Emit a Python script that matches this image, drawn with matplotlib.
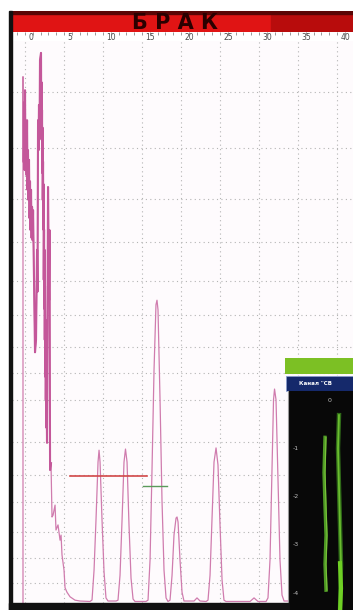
import matplotlib
matplotlib.use("Agg")
import matplotlib.pyplot as plt
from matplotlib.patches import Rectangle

# ---------------- data ----------------
# A-scan echo trace (depth units, amplitude %)
echo_x = [-0.26, -0.26, -0.2, -0.13, -0.06, 0.0, 0.06, 0.13, 0.2, 0.26, 0.32, 0.38, 0.45,
          0.51, 0.58, 0.64, 0.7, 0.77, 0.84, 0.9, 0.97, 1.03,
          1.28, 1.41, 1.54, 1.6, 1.67, 1.73, 1.79, 1.86, 1.92, 2.05, 2.08, 2.12, 2.15, 2.18,
          2.21, 2.24, 2.27, 2.31, 2.34, 2.37, 2.4, 2.44, 2.47, 2.5, 2.53, 2.56, 2.6, 2.63,
          2.66, 2.69, 2.72, 2.76, 2.82, 2.95, 3.08, 3.14, 3.21, 3.33,
          3.46, 3.59, 3.85, 3.97, 4.23, 4.49, 4.62, 4.74, 5.0, 5.13, 5.38, 5.77,
          6.41, 7.05, 8.33,
          8.59, 8.85, 9.1, 9.36, 9.49, 9.62, 9.87, 10.13, 10.38, 10.64, 11.67,
          11.92, 12.18, 12.44, 12.69, 12.88, 13.08, 13.33, 13.59, 13.85, 14.1, 15.5,
          15.77, 16.03, 16.28, 16.54, 16.79, 16.92, 17.05, 17.31, 17.56, 17.82, 18.08, 18.33,
          18.59, 18.85, 19.1, 19.36, 19.49, 19.62, 19.87, 20.13, 20.38, 21.67, 22.05, 22.44, 23.21,
          23.46, 23.72, 23.97, 24.23, 24.49, 24.74, 25.0, 25.26, 25.51, 25.77, 28.85, 29.36, 29.87, 30.9,
          31.15, 31.41, 31.67, 31.86, 31.99, 32.18, 32.44, 32.69, 32.95, 33.21, 42.0]
echo_y = [0, 93.0, 78.0, 88.5, 76.5, 90.6, 77.0, 84.0, 75.6, 85.3, 73.0, 80.0, 71.2,
          78.3, 68.0, 74.5, 65.9, 73.0, 64.5, 70.0, 64.1, 69.4,
          44.3, 46.5, 62.4, 55.0, 85.3, 80.0, 88.0, 82.0, 95.9, 97.2, 84.0, 92.0, 81.8, 87.1,
          76.0, 84.0, 71.2, 78.0, 66.0, 74.0, 57.1, 66.0, 52.0, 62.4, 46.5, 56.0, 40.0, 50.0,
          35.9, 44.0, 31.0, 38.0, 28.3, 73.5, 53.5, 65.9, 23.5, 24.7,
          15.2, 15.5, 17.3, 12.9, 13.8, 11.1, 12.0, 8.5, 5.8, 2.7, 1.9, 1.1,
          0.5, 0.35, 0.27,
          0.53, 5.8, 14.7, 24.9, 27.0, 24.9, 14.7, 5.5, 0.9, 0.35, 0.35,
          0.5, 4.9, 14.7, 24.9, 27.2, 24.9, 13.8, 4.4, 0.7, 0.27, 0.27,
          0.5, 7.6, 23.5, 41.2, 52.7, 53.5, 51.8, 35.9, 18.2, 5.8, 0.9, 0.27,
          0.5, 4.9, 12.0, 15.0, 15.2, 14.3, 7.6, 1.9, 0.35, 0.35, 0.9, 0.35, 0.27,
          0.5, 4.9, 14.7, 24.9, 27.4, 24.4, 13.8, 4.1, 0.5, 0.27, 0.27, 0.9, 0.27, 0.27,
          0.9, 7.6, 23.5, 35.9, 37.8, 35.9, 21.7, 7.6, 1.4, 0.35, 0.35]

grid_x = [0, 5, 10, 15, 20, 25, 30, 35, 40]
grid_y = [90.3, 80.4, 71.4, 63.8, 56.9, 50.9, 45.2, 40.6, 35.9, 28.4, 22.6,
          17.8, 12.5, 8.0, 3.5]
ruler_ticks = [0, 5, 10, 15, 20, 25, 30, 35, 40]
ruler_labels = ["0", "5", "10", "15", "20", "25", "30", "35", "40"]

gate_red_x = [5.8, 15.6]
gate_red_y = 22.4
gate_green_x = [15.1, 18.2]
gate_green_y = 20.7

title_text = "Б Р А К"
inset_title = "Канал \"СВ"
inset_ticks = [0, -1, -2, -3, -4]
inset_labels = ["0", "-1", "-2", "-3", "-4"]
trace1_x = [37, 36, 37, 38, 37, 38]
trace1_y = [-0.77, -1.5, -2.2, -2.8, -3.4, -3.94]
trace2_x = [51, 50, 51, 52, 53, 52]
trace2_y = [-0.31, -1.0, -1.8, -2.6, -3.4, -4.4]
trace2b_x = [52, 53, 52]
trace2b_y = [-3.38, -3.9, -4.4]

# ---------------- figure ----------------
W, H = 353, 610
fig = plt.figure(figsize=(W / 100, H / 100), dpi=100)
fig.patch.set_facecolor("white")


def axes_px(x0, y0, x1, y1, **kw):
    return fig.add_axes([x0 / W, 1 - y1 / H, (x1 - x0) / W, (y1 - y0) / H], **kw)


XLIM = (-1.67, 42.05)

# main A-scan
ax = axes_px(12, 41, 353, 603)
ax.set_facecolor("#fefbfd")
ax.set_xlim(*XLIM)
ax.set_ylim(0, 99.3)
for gx in grid_x:
    ax.axvline(gx, color="#b4b4b4", lw=0.8, ls=(0, (1, 3)), zorder=1)
for gy in grid_y:
    ax.axhline(gy, color="#b4b4b4", lw=0.8, ls=(0, (1, 3)), zorder=1)
ax.plot(echo_x, echo_y, color="#d07cae", lw=0.9, zorder=3)
n_dense = 60
ax.plot(echo_x[2:n_dense], echo_y[2:n_dense], color="#c4579a", lw=1.5, zorder=3)
ax.plot(gate_red_x, [gate_red_y] * 2, color="#d24848", lw=1.2, zorder=4)
ax.plot(gate_green_x, [gate_green_y] * 2, color="#5a9a5a", lw=1.0, zorder=4)
ax.set_xticks([])
ax.set_yticks([])
for s in ax.spines.values():
    s.set_visible(False)

# ruler
axr = axes_px(12, 32, 353, 41)
axr.set_facecolor("white")
axr.set_xlim(*XLIM)
axr.set_ylim(0, 1)
axr.set_yticks([])
axr.set_xticks(range(-1, 43))
axr.tick_params(axis="x", direction="in", top=True, bottom=False,
                labelbottom=False, length=2, width=0.6, color="#888888")
for v, lab in zip(ruler_ticks, ruler_labels):
    axr.text(v + 0.45, 0.35, lab, ha="left", va="center", fontsize=5.5,
             color="#4a4a4a")
for s in axr.spines.values():
    s.set_visible(False)

# red status bar
axb = axes_px(10, 11, 353, 32)
axb.set_xlim(0, 1)
axb.set_ylim(0, 1)
axb.set_facecolor("#e01414")
axb.add_patch(Rectangle((0.76, 0), 0.24, 1, color="#b80c0c"))
axb.add_patch(Rectangle((0, 0.88), 1, 0.12, color="#5a0505"))
axb.text(0.481, 0.42, title_text, ha="center", va="center",
         fontsize=15, fontweight="bold", color="#2a0000")
axb.set_xticks([])
axb.set_yticks([])
for s in axb.spines.values():
    s.set_visible(False)

# frame pieces
fig.add_artist(Rectangle((9 / W, 0), 3 / W, 1 - 11 / H, color="#111111",
                         transform=fig.transFigure))
fig.add_artist(Rectangle((9 / W, 0), 279 / W, 7 / H, color="#111111",
                         transform=fig.transFigure))

# inset window
axg = axes_px(285, 358, 353, 374)
axg.set_facecolor("#7cc024")
axg.set_xticks([]); axg.set_yticks([])
for s in axg.spines.values():
    s.set_visible(False)

axt = axes_px(286, 376, 353, 391)
axt.set_facecolor("#15296b")
axt.set_xticks([]); axt.set_yticks([])
for s in axt.spines.values():
    s.set_color("#9fb0d8"); s.set_linewidth(0.6)
axt.text(0.2, 0.5, inset_title, ha="left", va="center", fontsize=4,
         color="white", fontweight="bold")

axi = axes_px(288, 391, 353, 610)
axi.set_facecolor("#080808")
axi.set_xlim(0, 65)
axi.set_ylim(-4.35, 0.19)
axi.plot(trace1_x, trace1_y, color="#4f9a25", lw=2.4)
axi.plot([x + 1 for x in trace1_x], trace1_y, color="#79c33a", lw=0.8)
axi.plot(trace2_x, trace2_y, color="#2f6a18", lw=3.2)
axi.plot(trace2_x, trace2_y, color="#6bbd2f", lw=1.3)
axi.plot(trace2b_x, trace2b_y, color="#6fd024", lw=3.0)
for v, lab in zip(inset_ticks, inset_labels):
    xpos = 40 if v == 0 else 5
    axi.text(xpos, v, lab, ha="left", va="center", fontsize=4.5, color="#bdbdbd")
axi.set_xticks([]); axi.set_yticks([])
for s in axi.spines.values():
    s.set_visible(False)
axi.spines["left"].set_visible(True)
axi.spines["left"].set_color("#9a9a9a")

fig.savefig("out.png", dpi=100)
